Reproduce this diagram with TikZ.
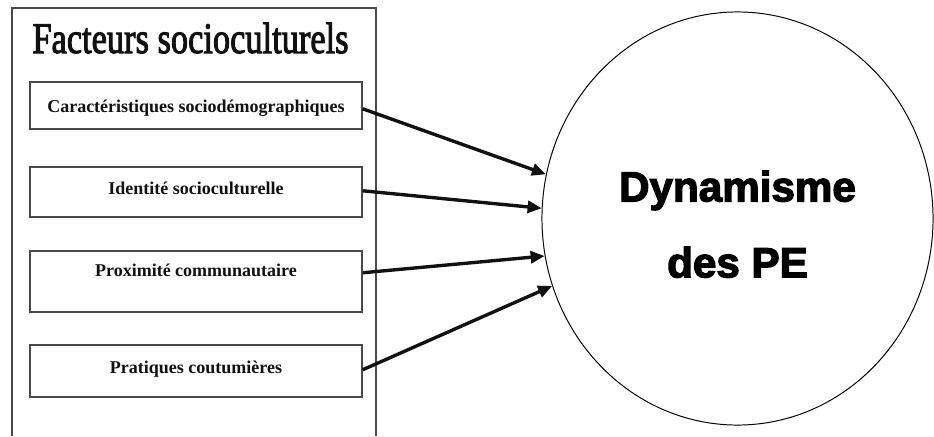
\documentclass[tikz,border=0pt]{standalone}
\usepackage{fontspec}
\usepackage{graphicx}
\setmainfont{Liberation Serif}
\newfontfamily\titrefont[FakeBold=2.5]{Liberation Serif}
\newfontfamily\dynfont[FakeBold=3]{Liberation Sans Bold}
\usetikzlibrary{arrows.meta, shapes.geometric}
\definecolor{ink}{HTML}{111111}
\definecolor{rule}{HTML}{4A4A4A}
\tikzset{
  >={Triangle[length=10pt, width=8.5pt]},
  %
  panel/.style={draw=rule, line width=1pt},
  titre/.style={font=\titrefont\fontsize{31}{36}\selectfont, text=ink,
                inner sep=0pt, anchor=base},
  %
  facteur/.style 2 args={
    draw=rule, line width=0.9pt, fill=white, minimum width=8.3cm,
    inner xsep=4pt, inner ysep=0pt, text height=#1, text depth=#2,
    anchor=base, text=ink, font=\bfseries\fontsize{12.8}{15}\selectfont,
  },
  cible/.style={
    ellipse, draw=black, line width=0.7pt, minimum width=9.775cm,
    minimum height=10.325cm, inner sep=0pt, align=center, text=black,
    font=\dynfont\fontsize{30}{54}\selectfont, text height=83.7pt, text depth=0pt,
  },
  %
  flow/.style={draw=ink, line width=2.4pt, ->},
}

\begin{document}
\begin{tikzpicture}[x=0.025cm, y=-0.025cm]
\useasboundingbox (0,0) rectangle (934,436);

% -------------------------------------------------------------- facteurs
\draw[panel] (12,436) -- (12,8) -- (376,8) -- (376,436);
\node[titre] (titre) at (190.5,53)
  {\resizebox{7.9cm}{\height}{Facteurs socioculturels}};

\node[facteur={21.3pt}{12.1pt}] (socio) at (196,112) {Caractéristiques sociodémographiques};
\node[facteur={19.2pt}{16.4pt}] (ident) at (196,194) {Identité socioculturelle};
\node[facteur={17.8pt}{25.6pt}] (proxi) at (196,276) {Proximité communautaire};
\node[facteur={19.9pt}{17.1pt}] (prati) at (196,373) {Pratiques coutumières};

% -------------------------------------------------------------- dynamisme
\node[cible] (dyn) at (737.5,218.5) {Dynamisme\\des PE};

\draw[flow] (socio.mid east) -- (dyn.167);
\draw[flow] (ident.mid east) -- (dyn.177);
\draw[flow] (proxi.mid east) -- (dyn.191.5);
\draw[flow] (prati.mid east) -- (dyn.200.5);

\end{tikzpicture}
\end{document}
